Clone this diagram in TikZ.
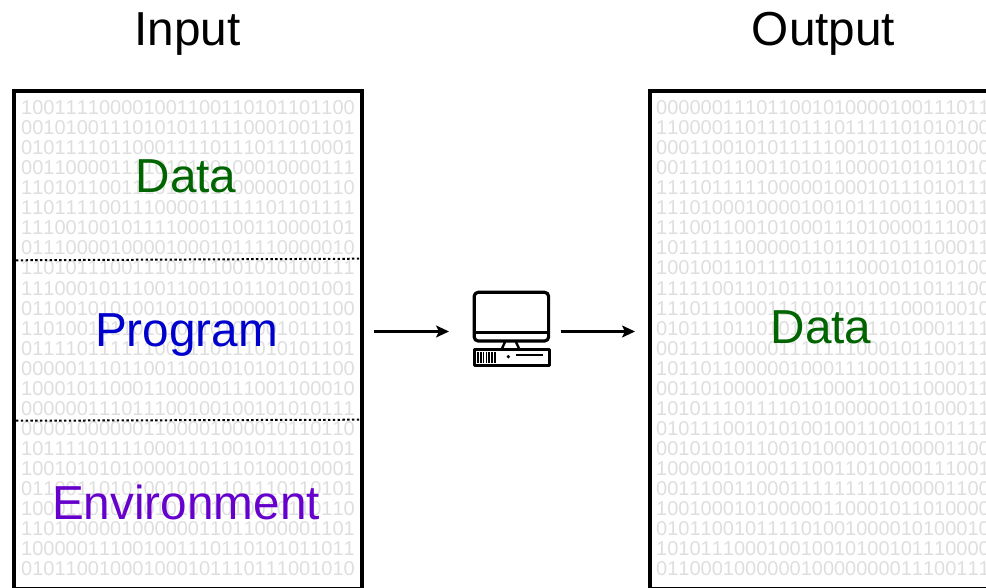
\documentclass[tikz,border=0pt]{standalone}
\usepackage{fontspec}
\setmainfont{Liberation Sans}
\usetikzlibrary{arrows.meta}
\definecolor{bits}{HTML}{DEDEDE}
\definecolor{datagreen}{HTML}{006400}
\definecolor{progblue}{HTML}{0000CC}
\definecolor{envpurple}{HTML}{6600CC}
\tikzset{
  frame/.style={draw=black,line width=4pt,rectangle,inner sep=0pt},
  bitblock/.style={anchor=north west,inner sep=0pt,align=left,text=bits,font=\fontsize{20}{20.04}\selectfont\addfontfeatures{Kerning=Off}},
  biglabel/.style={anchor=base,inner sep=0pt,font=\fontsize{47.7}{50}\selectfont},
  divider/.style={line width=2pt,dash pattern=on 2.4pt off 2.4pt},
  flow/.style={line width=2.3pt,-{Stealth[length=13pt,width=12pt,inset=3pt]}},
  icon/.style={line width=3.2pt,line join=round}
}
\begin{document}
\begin{tikzpicture}[x=1pt,y=-1pt]
\useasboundingbox (0,0) rectangle (986,588);
\node[bitblock] (inbits) at (21,100.5) {100111100001001100110101101100\\
001010011101010111110001001101\\
010111101100011110111011110001\\
001100001111010100100010000111\\
110101100111010101000000100110\\
110111100111000011111101101111\\
111001001011110001100110000101\\
011100001000010001011110000010\\
110101110011101111001010100111\\
111000101110011001101101001001\\
011001010100101011000001001100\\
110100101101010010100001011101\\
011110111111000110111010101101\\
000001110110011001010101011100\\
100010110001100000111001100010\\
000000111011100100100101010111\\
000010000001100001000010110110\\
101111011110001111001011110101\\
100101010100001001110100010001\\
011001101010010111101110110101\\
100011010010101001010010110110\\
110100000100000011011000001101\\
100000111001001110110101011011\\
010110010001000101110111001010};
\begin{scope}
\clip (652,92) rectangle (986,588);
\node[bitblock] (outbits) at (656,100.5) {000000111011001010000100111011\\
110000110111011101111101010100\\
000110010101111100101101101000\\
001110110011010110000101011010\\
111101111100000100010111010111\\
111010001000010010111001110011\\
111001100101000111010000111001\\
101111110000011011011011100011\\
100100110111101111000101010100\\
111110011010111011010011011100\\
111011100011101010111100010010\\
010111011010110101111010001111\\
001111000001111111000101100111\\
101101100000100011100111100111\\
001101000010011000110011000011\\
101011101111010100000110100011\\
010111001010100100110001101111\\
001010101100101000010100001100\\
100000101001110011010000111001\\
001110011000111111111000001100\\
100100010100000110001011010000\\
010110010111101001000010100010\\
101011100010010010100101110000\\
011000100000010000000011100111};
\end{scope}
\node[frame,minimum width=347.5pt,minimum height=497.5pt] (inbox) at (187.75,340.25) {};
\coordinate (outtl) at (649.5,91.5);
\coordinate (outbl) at (649.5,589);
\coordinate (outtr) at (986,91.5);
\coordinate (outbr) at (986,589);
\draw[line width=4pt,line join=miter] (outtr) -- (outtl) -- (outbl) -- (outbr);
\coordinate (d1a) at (16,260.3);\coordinate (d1b) at (360,258.7);
\coordinate (d2a) at (16,420.7);\coordinate (d2b) at (360,419.7);
\draw[divider] (d1a) -- (d1b);
\draw[divider] (d2a) -- (d2b);
\node[biglabel,text=black] (inputtitle) at (187.5,46) {Input};
\node[biglabel,text=black] (outputtitle) at (823.5,46) {Output};
\node[biglabel,text=datagreen] (datain) at (186,193) {Data};
\node[biglabel,text=progblue] (program) at (186.5,346.5) {Program};
\node[biglabel,text=envpurple] (environment) at (186,519) {Environment};
\node[biglabel,text=datagreen] (dataout) at (821,343) {Data};
% computer icon
\draw[icon,rounded corners=4pt] (474.2,292.3) rectangle (548.6,341);
\draw[icon,line width=2.6pt] (474,332.3) -- (548.6,332.3);
\draw[icon,line width=2.4pt] (505,342) -- (502,348.5) (516,342) -- (519,348.5);
\draw[icon,line width=3pt] (474.2,349.5) rectangle (549,365.8);
\foreach \gx in {478,480.8,483.6,486.4,489.2,492,494.8}
  \draw[line width=1.7pt] (\gx,352) -- (\gx,362.6);
\fill (508.3,356.7) circle (1.8pt);
\draw[line width=2.8pt] (515.7,355) -- (543.3,355);
% arrows
\coordinate (arrowstart) at (374,331.5);
\coordinate (arrowend) at (449,331.5);
\coordinate (arrowfrom) at (560.7,331.5);
\coordinate (arrowout) at (635,331.5);
\draw[flow] (arrowstart) -- (arrowend);
\draw[flow] (arrowfrom) -- (arrowout);
\end{tikzpicture}
\end{document}
